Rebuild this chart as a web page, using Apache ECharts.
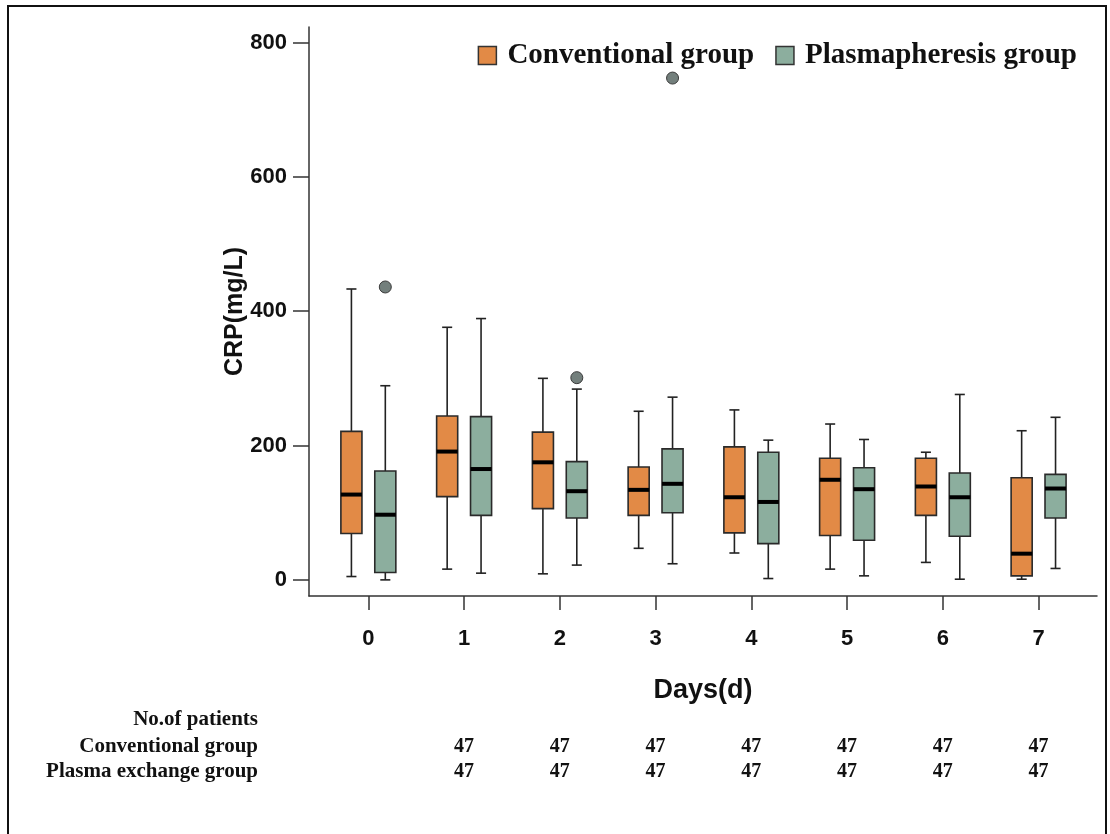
<!DOCTYPE html>
<html>
<head>
<meta charset="utf-8">
<script src="https://cdn.jsdelivr.net/npm/echarts@6/dist/echarts.min.js"></script>
<style>
html,body{margin:0;padding:0;background:#fff;}
#chart{width:1110px;height:834px;}
</style>
</head>
<body>
<div id="chart"></div>
<script>
// ---- data ----
const days = [0, 1, 2, 3, 4, 5, 6, 7];
const yTicks = [0, 200, 400, 600, 800];
// [min, Q1, median, Q3, max] per day
const conventional = [
  [5, 69, 127, 221, 433],
  [16, 124, 191, 244, 376],
  [9, 106, 175, 220, 300],
  [47, 96, 134, 168, 251],
  [40, 70, 123, 198, 253],
  [16, 66, 149, 181, 232],
  [26, 96, 139, 181, 190],
  [1, 6, 39, 152, 222]
];
const plasmapheresis = [
  [0, 11, 97, 162, 289],
  [10, 96, 165, 243, 389],
  [22, 92, 132, 176, 284],
  [24, 100, 143, 195, 272],
  [2, 54, 116, 190, 208],
  [6, 59, 135, 167, 209],
  [1, 65, 123, 159, 276],
  [17, 92, 136, 157, 242]
];
const outliersConventional = [];
const outliersPlasmapheresis = [[0, 436], [2, 301], [3, 747]];
const patientsConventional = ['', 47, 47, 47, 47, 47, 47, 47];
const patientsPlasma = ['', 47, 47, 47, 47, 47, 47, 47];
const seriesNames = ['Conventional group', 'Plasmapheresis group'];
const tableRowLabels = ['No.of patients', 'Conventional group', 'Plasma exchange group'];

// ---- styles ----
const ORANGE = '#E28A46';
const GREEN = '#8CAE9E';
const OUTLIER = '#737f7c';
const INK = '#111';

function boxRows(stats) {
  return days.map((d, i) => [d].concat(stats[i]));
}

function boxRenderer(offsetFrac, color) {
  return function (params, api) {
    const x = api.value(0);
    const unit = api.size([1, 0])[0];
    const off = unit * offsetFrac;
    const w = unit * 0.22;
    const cap = unit * 0.105;
    const pMin = api.coord([x, api.value(1)]);
    const pQ1 = api.coord([x, api.value(2)]);
    const pMed = api.coord([x, api.value(3)]);
    const pQ3 = api.coord([x, api.value(4)]);
    const pMax = api.coord([x, api.value(5)]);
    const cx = pMin[0] + off;
    const ls = { stroke: '#222', lineWidth: 1.6 };
    return {
      type: 'group',
      children: [
        { type: 'line', shape: { x1: cx, y1: pMax[1], x2: cx, y2: pMin[1] }, style: ls },
        { type: 'line', shape: { x1: cx - cap / 2, y1: pMax[1], x2: cx + cap / 2, y2: pMax[1] }, style: ls },
        { type: 'line', shape: { x1: cx - cap / 2, y1: pMin[1], x2: cx + cap / 2, y2: pMin[1] }, style: ls },
        { type: 'rect', shape: { x: cx - w / 2, y: pQ3[1], width: w, height: pQ1[1] - pQ3[1] },
          style: { fill: color, stroke: '#2a2a2a', lineWidth: 1.6 } },
        { type: 'line', shape: { x1: cx - w / 2, y1: pMed[1], x2: cx + w / 2, y2: pMed[1] },
          style: { stroke: '#000', lineWidth: 4 } }
      ]
    };
  };
}

function outlierRenderer(offsetFrac) {
  return function (params, api) {
    const unit = api.size([1, 0])[0];
    const p = api.coord([api.value(0), api.value(1)]);
    return {
      type: 'circle',
      shape: { cx: p[0] + unit * offsetFrac, cy: p[1], r: 6 },
      style: { fill: OUTLIER, stroke: '#3a3a3a', lineWidth: 1 }
    };
  };
}

const X_MIN = -0.62, X_MAX = 7.61;
const Y_MIN = -24, Y_MAX = 823;

const countAxis = (arr, offset) => ({
  type: 'value', gridIndex: 0, position: 'bottom', min: X_MIN, max: X_MAX, offset: offset,
  axisLine: { show: false, onZero: false }, axisTick: { show: false }, splitLine: { show: false },
  axisLabel: {
    customValues: days.filter(d => arr[d] !== ''),
    formatter: v => String(arr[Math.round(v)]),
    margin: 0,
    fontFamily: 'Liberation Serif', fontWeight: 'bold', fontSize: 20, color: INK
  }
});

const chart = echarts.init(document.getElementById('chart'), null, { renderer: 'canvas' });
chart.setOption({
  backgroundColor: '#fff',
  animation: false,
  grid: { left: 309, right: 13, top: 27, bottom: 238, containLabel: false, outerBoundsMode: 'none' },
  legend: {
    right: 28, top: 36,
    itemWidth: 18, itemHeight: 18, itemGap: 21,
    textStyle: { fontFamily: 'Liberation Serif', fontWeight: 'bold', fontSize: 29, color: INK, padding: [0, 0, 0, 6] },
    data: [
      { name: seriesNames[0], icon: 'rect', itemStyle: { color: ORANGE, borderColor: '#333', borderWidth: 1.5 } },
      { name: seriesNames[1], icon: 'rect', itemStyle: { color: GREEN, borderColor: '#333', borderWidth: 1.5 } }
    ]
  },
  xAxis: [
    {
      type: 'value', min: X_MIN, max: X_MAX,
      name: 'Days(d)', nameLocation: 'middle', nameGap: 81, nameMoveOverlap: false,
      nameTextStyle: { fontFamily: 'Liberation Sans', fontWeight: 'bold', fontSize: 27, color: INK },
      axisLine: { show: true, onZero: false, lineStyle: { color: '#333', width: 1.5 } },
      axisTick: { show: true, customValues: days, length: 14, lineStyle: { color: '#333', width: 1.5 } },
      axisLabel: { customValues: days, margin: 32, fontFamily: 'Liberation Sans', fontWeight: 'bold', fontSize: 22, color: INK },
      splitLine: { show: false }
    },
    countAxis(patientsConventional, 141),
    countAxis(patientsPlasma, 166)
  ],
  yAxis: {
    type: 'value', min: Y_MIN, max: Y_MAX,
    name: 'CRP(mg/L)', nameLocation: 'middle', nameGap: 61, nameRotate: 90, nameMoveOverlap: false,
    nameTextStyle: { fontFamily: 'Liberation Sans', fontWeight: 'bold', fontSize: 25, color: INK },
    axisLine: { show: true, onZero: false, lineStyle: { color: '#333', width: 1.5 } },
    axisTick: { show: true, customValues: yTicks, length: 16, lineStyle: { color: '#333', width: 1.5 } },
    axisLabel: { customValues: yTicks, margin: 22, fontFamily: 'Liberation Sans', fontWeight: 'bold', fontSize: 22, color: INK },
    splitLine: { show: false }
  },
  series: [
    {
      name: seriesNames[0], type: 'custom', xAxisIndex: 0, yAxisIndex: 0,
      itemStyle: { color: ORANGE },
      renderItem: boxRenderer(-0.177, ORANGE),
      encode: { x: 0, y: [1, 2, 3, 4, 5] },
      data: boxRows(conventional)
    },
    {
      name: seriesNames[1], type: 'custom', xAxisIndex: 0, yAxisIndex: 0,
      itemStyle: { color: GREEN },
      renderItem: boxRenderer(0.177, GREEN),
      encode: { x: 0, y: [1, 2, 3, 4, 5] },
      data: boxRows(plasmapheresis)
    },
    {
      name: seriesNames[0], type: 'custom', xAxisIndex: 0, yAxisIndex: 0,
      itemStyle: { color: ORANGE },
      renderItem: outlierRenderer(-0.177),
      encode: { x: 0, y: 1 },
      data: outliersConventional
    },
    {
      name: seriesNames[1], type: 'custom', xAxisIndex: 0, yAxisIndex: 0,
      itemStyle: { color: GREEN },
      renderItem: outlierRenderer(0.177),
      encode: { x: 0, y: 1 },
      data: outliersPlasmapheresis
    }
  ],
  graphic: [
    { type: 'rect', silent: true, shape: { x: 8, y: 6, width: 1098, height: 840 },
      style: { fill: null, stroke: '#111', lineWidth: 2 } },
    { type: 'text', x: 258, y: 720, silent: true,
      style: { text: tableRowLabels[0], align: 'right', verticalAlign: 'middle', font: 'bold 21px "Liberation Serif"', fill: INK } },
    { type: 'text', x: 258, y: 747, silent: true,
      style: { text: tableRowLabels[1], align: 'right', verticalAlign: 'middle', font: 'bold 21px "Liberation Serif"', fill: INK } },
    { type: 'text', x: 258, y: 772, silent: true,
      style: { text: tableRowLabels[2], align: 'right', verticalAlign: 'middle', font: 'bold 21px "Liberation Serif"', fill: INK } }
  ]
});
</script>
</body>
</html>
